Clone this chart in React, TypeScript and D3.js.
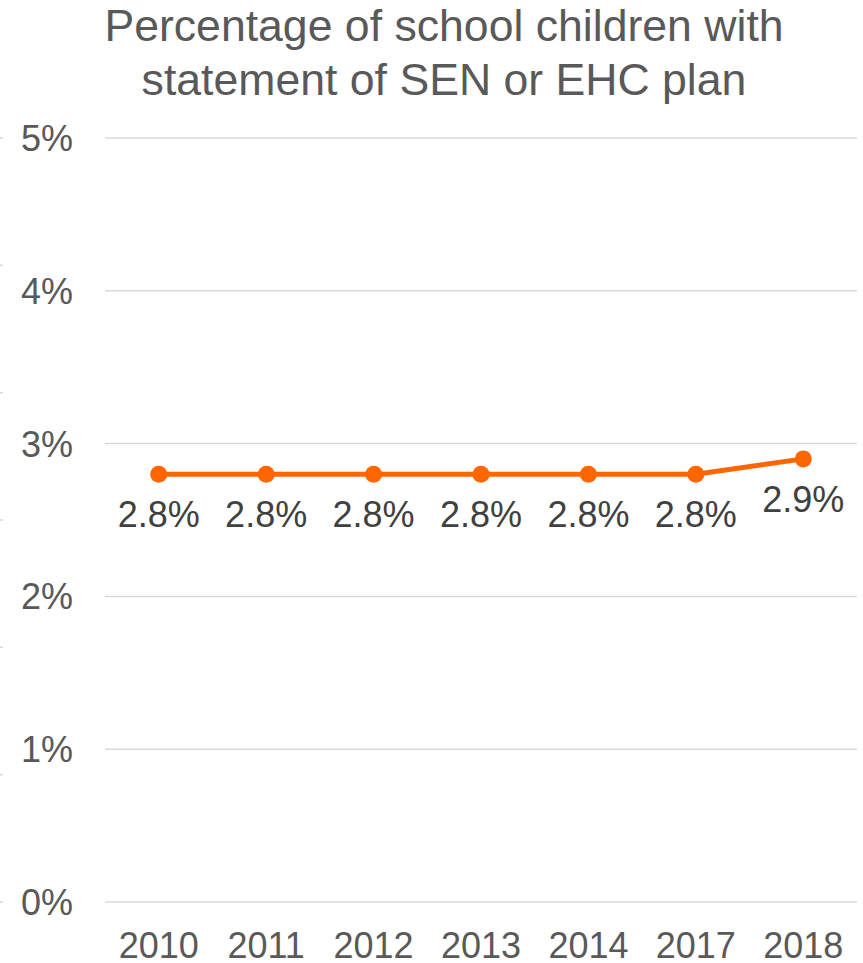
import React from "react";
import * as d3 from "d3";

const titleLines = ["Percentage of school children with", "statement of SEN or EHC plan"];
const years = ["2010", "2011", "2012", "2013", "2014", "2017", "2018"];
const values = [2.8, 2.8, 2.8, 2.8, 2.8, 2.8, 2.9];
const yTicks = [0, 1, 2, 3, 4, 5];
const edgeTicks = [0, 1, 2, 3, 4, 5, 6];

const W = 863;
const H = 963;
const FONT = "'Liberation Sans', Arial, sans-serif";

export default function App() {
  const x = d3.scaleBand<string>().domain(years).range([105, 857]);
  const y = d3.scaleLinear().domain([0, 5]).range([902, 138]);
  const edge = d3.scaleLinear().domain([0, 6]).range([902, 138]);
  const cx = (yr: string) => (x(yr) as number) + x.bandwidth() / 2;
  const line = d3
    .line<number>()
    .x((_, i) => cx(years[i]))
    .y((d) => y(d));

  return (
    <svg width={W} height={H} style={{ position: "absolute", left: 0, top: 0, background: "#fff" }} fontFamily={FONT}>
      {edgeTicks.map((t) => (
        <line key={"e" + t} x1={0} x2={3} y1={edge(t)} y2={edge(t)} stroke="#d9d9d9" strokeWidth={1.5} />
      ))}
      {titleLines.map((t, i) => (
        <text key={t} x={444} y={41 + i * 54} textAnchor="middle" fontSize={44.6} fill="#595959">
          {t}
        </text>
      ))}
      {yTicks.map((t) => (
        <g key={t}>
          <line x1={105} x2={857} y1={y(t)} y2={y(t)} stroke="#d9d9d9" strokeWidth={1.5} />
          <text x={73} y={y(t) + 13} textAnchor="end" fontSize={36} fill="#595959">
            {t + "%"}
          </text>
        </g>
      ))}
      {years.map((yr) => (
        <text key={yr} x={cx(yr)} y={958} textAnchor="middle" fontSize={36} fill="#595959">
          {yr}
        </text>
      ))}
      <path d={line(values) || ""} fill="none" stroke="#FF6600" strokeWidth={5} strokeLinejoin="round" />
      {values.map((v, i) => (
        <circle key={"c" + i} cx={cx(years[i])} cy={y(v)} r={8.5} fill="#FF6600" />
      ))}
      {values.map((v, i) => (
        <text key={"l" + i} x={cx(years[i])} y={y(v) + 53} textAnchor="middle" fontSize={36} fill="#404040">
          {v.toFixed(1) + "%"}
        </text>
      ))}
    </svg>
  );
}
